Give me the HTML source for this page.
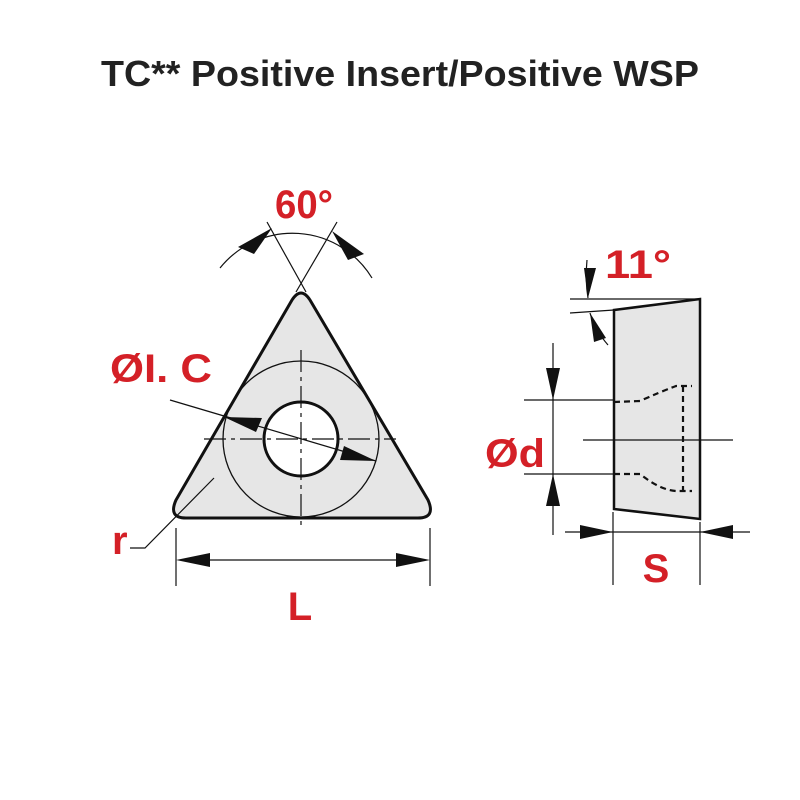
<!DOCTYPE html>
<html><head><style>body{margin:0;background:#fff}svg{display:block}</style></head><body>
<svg width="800" height="800" viewBox="0 0 800 800" xmlns="http://www.w3.org/2000/svg" font-family="Liberation Sans, sans-serif">
<text x="400" y="86" text-anchor="middle" font-size="36" font-weight="bold" fill="#222" textLength="598" lengthAdjust="spacingAndGlyphs">TC** Positive Insert/Positive WSP</text>
<!-- triangle -->
<path d="M292,300 Q301,286 310,300 L428,500 Q436,518 418,518 L186,518 Q168,518 176,500 Z" fill="#e6e6e6" stroke="#111" stroke-width="3"/>
<circle cx="301" cy="439" r="78" fill="none" stroke="#111" stroke-width="1.3"/>
<circle cx="301" cy="439" r="37" fill="#fff" stroke="#111" stroke-width="3"/>
<line x1="204" y1="439" x2="396" y2="439" stroke="#111" stroke-width="1.2" stroke-dasharray="22,5,4,5"/>
<line x1="301" y1="350" x2="301" y2="530" stroke="#111" stroke-width="1.2" stroke-dasharray="22,5,4,5"/>
<!-- 60 deg -->
<line x1="267" y1="222" x2="306" y2="292" stroke="#111" stroke-width="1.2"/>
<line x1="337" y1="222" x2="296" y2="292" stroke="#111" stroke-width="1.2"/>
<path d="M220,268 A93,93 0 0 1 372,278" fill="none" stroke="#111" stroke-width="1.2"/>
<path d="M238,247 L272,228 L254,254 Z" fill="#111"/>
<path d="M364,254 L332,231 L348,260 Z" fill="#111"/>
<text x="304" y="218" text-anchor="middle" font-size="40" font-weight="bold" fill="#d42027" textLength="58" lengthAdjust="spacingAndGlyphs">60°</text>
<!-- IC -->
<line x1="170" y1="400" x2="376" y2="461" stroke="#111" stroke-width="1.3"/>
<path d="M224,417 L262,418 L256,432 Z" fill="#111"/>
<path d="M376,461 L340,460 L344,446 Z" fill="#111"/>
<text x="110" y="382" font-size="40" font-weight="bold" fill="#d42027" textLength="102" lengthAdjust="spacingAndGlyphs">ØI. C</text>
<!-- r -->
<polyline points="130,548 145,548 214,478" fill="none" stroke="#111" stroke-width="1.2"/>
<text x="112" y="554" font-size="40" font-weight="bold" fill="#d42027">r</text>
<!-- L -->
<line x1="176" y1="528" x2="176" y2="586" stroke="#111" stroke-width="1.2"/>
<line x1="430" y1="528" x2="430" y2="586" stroke="#111" stroke-width="1.2"/>
<line x1="200" y1="560" x2="406" y2="560" stroke="#111" stroke-width="1.2"/>
<path d="M176,560 L210,553 L210,567 Z M430,560 L396,553 L396,567 Z" fill="#111"/>
<text x="300" y="620" text-anchor="middle" font-size="40" font-weight="bold" fill="#d42027">L</text>
<!-- side view -->
<path d="M614,310 L700,299 L700,519 L614,509 Z" fill="#e6e6e6" stroke="#111" stroke-width="2.5"/>
<line x1="570" y1="299" x2="700" y2="299" stroke="#111" stroke-width="1.2"/>
<line x1="570" y1="313" x2="614" y2="310" stroke="#111" stroke-width="1.2"/>
<path d="M587,260 Q585,280 588,298" fill="none" stroke="#111" stroke-width="1.2"/>
<path d="M588,298 L584,268 L596,268 Z" fill="#111"/>
<path d="M590,313 Q595,330 608,345" fill="none" stroke="#111" stroke-width="1.2"/>
<path d="M590,313 L606,338 L594,342 Z" fill="#111"/>
<text x="605" y="278" font-size="40" font-weight="bold" fill="#d42027" textLength="66" lengthAdjust="spacingAndGlyphs">11°</text>
<!-- hole dashed -->
<path d="M614,402 L640,401 Q660,392 676,386 L692,386 M683,386 L683,492 M614,474 L640,474 Q660,490 676,491 L692,491" fill="none" stroke="#111" stroke-width="2.2" stroke-dasharray="6,4"/>
<line x1="524" y1="400" x2="613" y2="400" stroke="#111" stroke-width="1.2"/>
<line x1="524" y1="474" x2="613" y2="474" stroke="#111" stroke-width="1.2"/>
<line x1="553" y1="343" x2="553" y2="535" stroke="#111" stroke-width="1.2"/>
<path d="M553,400 L546,368 L560,368 Z M553,474 L546,506 L560,506 Z" fill="#111"/>
<line x1="583" y1="440" x2="733" y2="440" stroke="#111" stroke-width="1.2"/>
<text x="485" y="467" font-size="40" font-weight="bold" fill="#d42027" textLength="60" lengthAdjust="spacingAndGlyphs">Ød</text>
<!-- S -->
<line x1="613" y1="512" x2="613" y2="585" stroke="#111" stroke-width="1.2"/>
<line x1="700" y1="522" x2="700" y2="585" stroke="#111" stroke-width="1.2"/>
<line x1="565" y1="532" x2="750" y2="532" stroke="#111" stroke-width="1.2"/>
<path d="M613,532 L580,525 L580,539 Z M700,532 L733,525 L733,539 Z" fill="#111"/>
<text x="656" y="582" text-anchor="middle" font-size="40" font-weight="bold" fill="#d42027">S</text>
</svg>
</body></html>
